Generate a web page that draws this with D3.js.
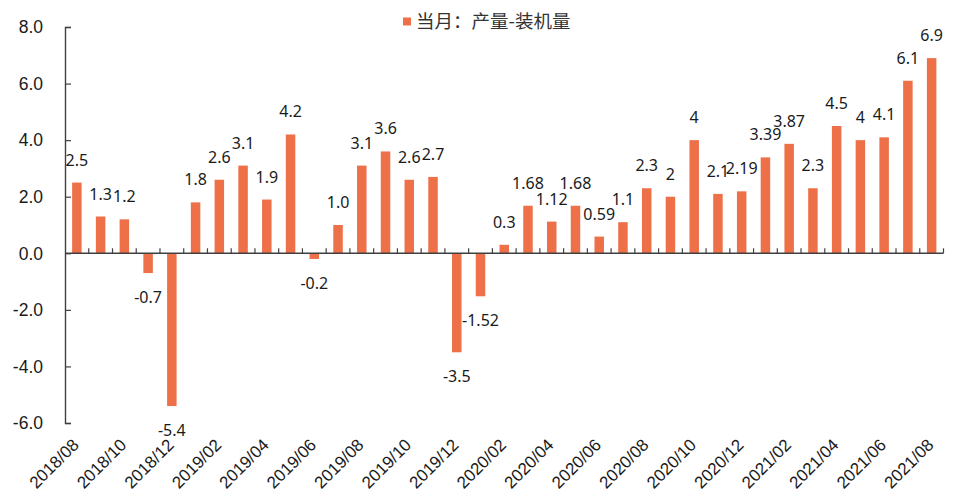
<!DOCTYPE html>
<html>
<head>
<meta charset="utf-8">
<script src="https://cdn.jsdelivr.net/npm/d3@7"></script>
<style>
  html, body { margin: 0; padding: 0; background: #fff; }
  svg { display: block; }
</style>
</head>
<body>
<svg id="chart" width="953" height="495"></svg>
<script>
// Monthly categories, 2018/08 – 2021/08
const months = [
  "2018/08","2018/09","2018/10","2018/11","2018/12",
  "2019/01","2019/02","2019/03","2019/04","2019/05","2019/06",
  "2019/07","2019/08","2019/09","2019/10","2019/11","2019/12",
  "2020/01","2020/02","2020/03","2020/04","2020/05","2020/06",
  "2020/07","2020/08","2020/09","2020/10","2020/11","2020/12",
  "2021/01","2021/02","2021/03","2021/04","2021/05","2021/06",
  "2021/07","2021/08"
];

// 当月：产量-装机量
const values = [
  2.5, 1.3, 1.2, -0.7, -5.4,
  1.8, 2.6, 3.1, 1.9, 4.2, -0.2,
  1.0, 3.1, 3.6, 2.6, 2.7, -3.5,
  -1.52, 0.3, 1.68, 1.12, 1.68, 0.59,
  1.1, 2.3, 2, 4, 2.1, 2.19,
  3.39, 3.87, 2.3, 4.5, 4, 4.1,
  6.1, 6.9
];

// Text shown above/below each bar
const valueLabels = [
  "2.5","1.3","1.2","-0.7","-5.4",
  "1.8","2.6","3.1","1.9","4.2","-0.2",
  "1.0","3.1","3.6","2.6","2.7","-3.5",
  "-1.52","0.3","1.68","1.12","1.68","0.59",
  "1.1","2.3","2","4","2.1","2.19",
  "3.39","3.87","2.3","4.5","4","4.1",
  "6.1","6.9"
];

const yTicks = [-6, -4, -2, 0, 2, 4, 6, 8];
const yTickLabels = ["-6.0", "-4.0", "-2.0", "0.0", "2.0", "4.0", "6.0", "8.0"];
const seriesName = "当月：产量-装机量";

const barColor = "#EE7049";
const axisColor = "#404040";

const svg = d3.select("#chart");

const x = d3.scaleBand()
  .domain(months)
  .range([65, 943.5])
  .paddingInner(0.6)
  .paddingOuter(0.3);

const y = d3.scaleLinear()
  .domain([-6, 8])
  .range([423, 27]);

// Bars
svg.append("g")
  .selectAll("rect")
  .data(values)
  .join("rect")
  .attr("x", (d, i) => x(months[i]))
  .attr("width", x.bandwidth())
  .attr("y", d => y(Math.max(0, d)))
  .attr("height", d => Math.abs(y(d) - y(0)))
  .attr("fill", barColor);

// Value labels
svg.append("g")
  .selectAll("text")
  .data(values)
  .join("text")
  .attr("x", (d, i) => x(months[i]) + x.bandwidth() / 2)
  .attr("y", d => d >= 0 ? y(d) - 17 : y(d) + 30)
  .attr("text-anchor", "middle")
  .attr("font-family", "'Noto Sans', 'Open Sans', sans-serif")
  .attr("font-size", 16)
  .attr("fill", "#1a1a1a")
  .text((d, i) => valueLabels[i]);

// Y axis
const yAxis = svg.append("g")
  .attr("transform", `translate(${65},0)`)
  .call(d3.axisRight(y).tickValues(yTicks).tickSize(6).tickFormat(""));
yAxis.select(".domain").attr("stroke", axisColor).attr("stroke-width", 1.4);
yAxis.selectAll(".tick line").attr("stroke", axisColor).attr("stroke-width", 1.2);

svg.append("g")
  .selectAll("text")
  .data(yTicks)
  .join("text")
  .attr("x", 43)
  .attr("y", d => y(d))
  .attr("dy", "0.36em")
  .attr("text-anchor", "end")
  .attr("font-family", "'Liberation Sans', Arial, sans-serif")
  .attr("font-size", 17.5)
  .attr("fill", "#1a1a1a")
  .text((d, i) => yTickLabels[i]);

// X axis along zero, ticks between categories pointing up
const x0 = y(0);
svg.append("line")
  .attr("x1", 65).attr("x2", 943.5)
  .attr("y1", x0).attr("y2", x0)
  .attr("stroke", axisColor).attr("stroke-width", 1.4);

const step = x.step();
const firstEdge = x(months[0]) - x.paddingOuter() * step;
const boundaries = d3.range(1, months.length + 1).map(i => firstEdge + i * step);
svg.append("g")
  .selectAll("line")
  .data(boundaries)
  .join("line")
  .attr("x1", d => d).attr("x2", d => d)
  .attr("y1", x0 - 5).attr("y2", x0)
  .attr("stroke", axisColor).attr("stroke-width", 1.2);

// Category labels (every other month), rotated
svg.append("g")
  .selectAll("text")
  .data(months.filter((m, i) => i % 2 === 0))
  .join("text")
  .attr("transform", m => `translate(${x(m) + x.bandwidth() / 2 + 3},${446}) rotate(-45)`)
  .attr("text-anchor", "end")
  .attr("font-family", "'Liberation Sans', Arial, sans-serif")
  .attr("font-size", 17)
  .attr("fill", "#1a1a1a")
  .text(m => m);

// Legend
const legend = svg.append("g");
legend.append("rect")
  .attr("x", 403).attr("y", 17.5)
  .attr("width", 8).attr("height", 8)
  .attr("fill", barColor);
legend.append("text")
  .attr("x", 416)
  .attr("y", 28)
  .attr("font-family", "'Noto Sans CJK SC', sans-serif")
  .attr("font-size", 18.5)
  .attr("fill", "#333")
  .text(seriesName);
</script>
</body>
</html>
